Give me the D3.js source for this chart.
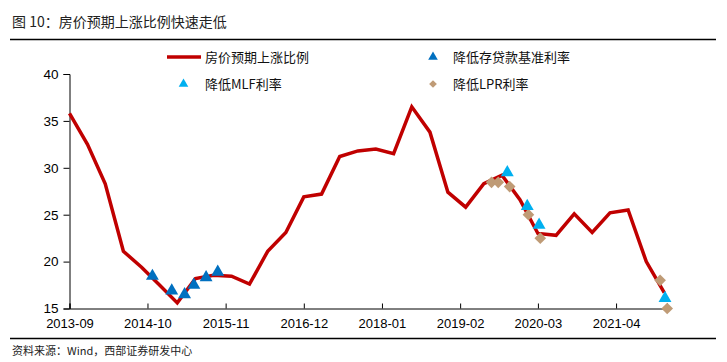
<!DOCTYPE html>
<html><head><meta charset="utf-8">
<script src="https://cdn.jsdelivr.net/npm/d3@7"></script>
<style>
html,body{margin:0;padding:0;background:#fff;}
svg{display:block;}
</style></head>
<body><svg id="chart" width="727" height="362"></svg>
<script>
// ---- data ----
const lineDates = ["2013-09","2013-12","2014-03","2014-06","2014-09","2014-12","2015-03","2015-06","2015-09","2015-12",
  "2016-03","2016-06","2016-09","2016-12","2017-03","2017-06","2017-09","2017-12","2018-03","2018-06",
  "2018-09","2018-12","2019-03","2019-06","2019-09","2019-12","2020-03","2020-06","2020-09","2020-12",
  "2021-03","2021-06","2021-09","2021-12"];
const lineValues = [35.8,32.5,28.3,21.1,19.4,17.5,15.6,18.2,18.55,18.45,
  17.6,21.1,23.1,26.9,27.2,31.2,31.8,32.0,31.5,36.5,
  33.8,27.4,25.8,28.3,29.2,26.6,23.0,22.8,25.1,23.1,
  25.2,25.5,20.0,16.7];
const depositCutDates = ["2014-10-26","2015-02-01","2015-04-07","2015-05-24","2015-07-25","2015-09-22"];
const depositCutValues = [18.45,16.9,16.5,17.5,18.3,18.9];
const mlfCutDates = ["2019-09-28","2020-01-07","2020-03-07","2021-12-05"];
const mlfCutValues = [29.5,25.9,23.9,16.1];
const lprCutDates = ["2019-07-10","2019-08-13","2019-10-10","2020-01-13","2020-03-13","2021-11-10","2021-12-16"];
const lprCutValues = [28.45,28.45,28.0,25.0,22.5,18.0,15.0];
const xTickLabels = ["2013-09","2014-10","2015-11","2016-12","2018-01","2019-02","2020-03","2021-04"];
const yTicks = [15,20,25,30,35,40];
const seriesNames = ["房价预期上涨比例","降低存贷款基准利率","降低MLF利率","降低LPR利率"];
const titleText = "图 10：房价预期上涨比例快速走低";
const sourceText = "资料来源：Wind，西部证券研发中心";

// ---- setup ----
const parseM = d3.timeParse("%Y-%m");
const parseD = d3.timeParse("%Y-%m-%d");
const svg = d3.select("#chart");
const font = "'Liberation Sans', Arial, 'Noto Sans CJK SC', sans-serif";
const cjk = "'Noto Sans CJK SC', 'Liberation Sans', sans-serif";

const x = d3.scaleTime().domain([parseM("2013-09"), parseD("2021-12-15")]).range([69.5, 667]);
const y = d3.scaleLinear().domain([15, 40]).range([308.5, 74]);

const C_RED = "#C00000", C_DBLUE = "#0070C0", C_LBLUE = "#00B0F0", C_TAN = "#BF9B76";

// title
svg.append("text").attr("x", 12).attr("y", 27).text(titleText)
  .attr("font-family", cjk).attr("font-size", 14).attr("fill", "#222");
svg.append("line").attr("x1", 10).attr("x2", 716).attr("y1", 39.5).attr("y2", 39.5)
  .attr("stroke", "#000").attr("stroke-width", 1.3);
svg.append("line").attr("x1", 10).attr("x2", 716).attr("y1", 338.5).attr("y2", 338.5)
  .attr("stroke", "#000").attr("stroke-width", 1.3);
svg.append("text").attr("x", 12).attr("y", 355).text(sourceText)
  .attr("font-family", cjk).attr("font-size", 11).attr("fill", "#222");

// axes
const yAxis = d3.axisLeft(y).tickValues(yTicks).tickSize(6).tickPadding(5).tickFormat(d3.format("d"));
const gy = svg.append("g").attr("transform", `translate(${x.range()[0]},0)`).call(yAxis);
gy.select(".domain").attr("stroke", "#000").attr("stroke-width", 1);
gy.selectAll(".tick line").attr("stroke", "#000");
gy.selectAll("text").attr("font-family", font).attr("font-size", 13.5).attr("fill", "#000");

const xAxis = d3.axisBottom(x).tickValues(xTickLabels.map(parseM)).tickSize(-5).tickPadding(10)
  .tickFormat((d, i) => xTickLabels[i]);
const gx = svg.append("g").attr("transform", `translate(0,${y(15)})`).call(xAxis);
gx.select(".domain").attr("stroke", "#000").attr("stroke-width", 1);
gx.selectAll(".tick line").attr("stroke", "#000");
gx.selectAll("text").attr("font-family", font).attr("font-size", 13).attr("fill", "#000");

// line
const lineData = lineDates.map((d, i) => ({d: parseM(d), v: lineValues[i]}));
svg.append("path").datum(lineData)
  .attr("d", d3.line().x(p => x(p.d)).y(p => y(p.v)))
  .attr("fill", "none").attr("stroke", C_RED).attr("stroke-width", 3.5).attr("stroke-linejoin", "miter");

const tri = d3.symbol().type(d3.symbolTriangle).size(72);
const dia = d3.symbol().type(d3.symbolSquare).size(68);

function pts(dates, vals) { return dates.map((d, i) => ({d: parseD(d), v: vals[i]})); }

svg.append("g").selectAll("path").data(pts(depositCutDates, depositCutValues)).join("path")
  .attr("d", tri).attr("transform", p => `translate(${x(p.d)},${y(p.v)})`).attr("fill", C_DBLUE);
svg.append("g").selectAll("path").data(pts(lprCutDates, lprCutValues)).join("path")
  .attr("d", dia).attr("transform", p => `translate(${x(p.d)},${y(p.v)}) rotate(45)`).attr("fill", C_TAN);
svg.append("g").selectAll("path").data(pts(mlfCutDates, mlfCutValues)).join("path")
  .attr("d", tri).attr("transform", p => `translate(${x(p.d)},${y(p.v)})`).attr("fill", C_LBLUE);

// legend
const lg = svg.append("g");
lg.append("line").attr("x1", 167).attr("x2", 201).attr("y1", 57).attr("y2", 57).attr("stroke", C_RED).attr("stroke-width", 3.5);
lg.append("path").attr("d", d3.symbol().type(d3.symbolTriangle).size(40)).attr("transform", "translate(433,57)").attr("fill", C_DBLUE);
lg.append("path").attr("d", d3.symbol().type(d3.symbolTriangle).size(40)).attr("transform", "translate(183.5,84)").attr("fill", C_LBLUE);
lg.append("path").attr("d", d3.symbol().type(d3.symbolSquare).size(30)).attr("transform", "translate(433,84) rotate(45)").attr("fill", C_TAN);
const lpos = [[205,57],[453,57],[205,84],[453,84]];
seriesNames.forEach((n, i) => {
  lg.append("text").attr("x", lpos[i][0]).attr("y", lpos[i][1]).attr("dy", "0.35em").text(n)
    .attr("font-family", cjk).attr("font-size", 13).attr("fill", "#111");
});
</script></body></html>
